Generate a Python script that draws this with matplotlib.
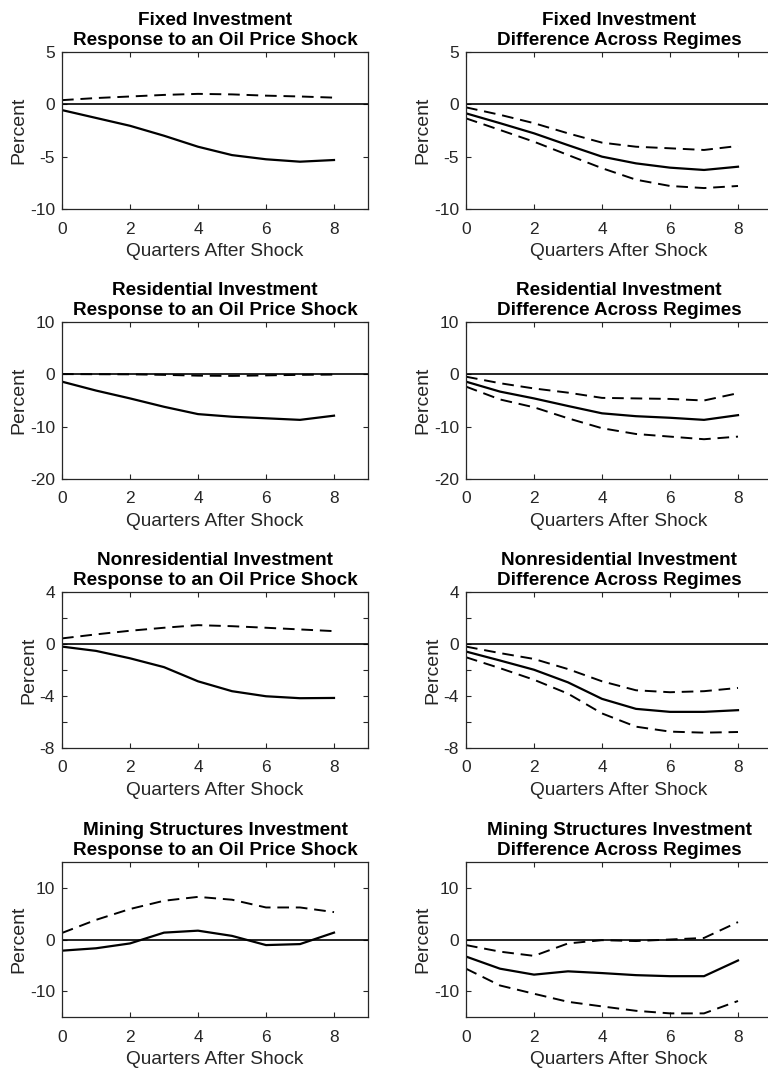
import numpy as np
from matplotlib import pyplot as plt

'''Data read off the reference figure'''
quarters = [0, 1, 2, 3, 4, 5, 6, 7, 8]

fixed_resp = [-0.55, -1.3, -2.05, -3.0, -4.05, -4.85, -5.25, -5.48, -5.32]
fixed_resp_hi = [0.4, 0.6, 0.75, 0.9, 1.0, 0.95, 0.83, 0.75, 0.64]
fixed_diff = [-0.86, -1.8, -2.77, -3.9, -5.0, -5.64, -6.05, -6.27, -5.96]
fixed_diff_hi = [-0.29, -1.0, -1.8, -2.77, -3.66, -4.05, -4.2, -4.36, -3.98]
fixed_diff_lo = [-1.34, -2.45, -3.57, -4.84, -6.1, -7.2, -7.8, -8.0, -7.8]

resid_resp = [-1.4, -3.1, -4.6, -6.2, -7.6, -8.1, -8.4, -8.7, -7.9]
resid_resp_hi = [0.05, 0.02, 0.0, -0.1, -0.25, -0.3, -0.2, -0.1, -0.05]
resid_diff = [-1.4, -3.3, -4.6, -6.05, -7.45, -8.0, -8.3, -8.7, -7.8]
resid_diff_hi = [-0.45, -1.7, -2.7, -3.5, -4.5, -4.6, -4.7, -5.0, -3.6]
resid_diff_lo = [-2.35, -4.8, -6.3, -8.4, -10.3, -11.4, -11.9, -12.4, -11.9]

nonres_resp = [-0.2, -0.53, -1.1, -1.78, -2.87, -3.63, -4.02, -4.17, -4.15]
nonres_resp_hi = [0.43, 0.74, 1.02, 1.25, 1.45, 1.37, 1.25, 1.12, 0.99]
nonres_diff = [-0.58, -1.27, -1.98, -2.95, -4.22, -4.99, -5.22, -5.22, -5.09]
nonres_diff_hi = [-0.2, -0.7, -1.15, -1.93, -2.87, -3.56, -3.71, -3.63, -3.38]
nonres_diff_lo = [-1.02, -1.86, -2.75, -3.82, -5.34, -6.36, -6.74, -6.82, -6.77]

mining_resp = [-2.16, -1.7, -0.76, 1.33, 1.71, 0.7, -1.08, -0.89, 1.33]
mining_resp_hi = [1.27, 3.8, 5.9, 7.5, 8.25, 7.7, 6.2, 6.2, 5.3]
mining_diff = [-3.3, -5.65, -6.8, -6.16, -6.5, -6.9, -7.1, -7.1, -4.06]
mining_diff_hi = [-1.08, -2.35, -3.17, -0.76, -0.13, -0.3, 0.0, 0.3, 3.37]
mining_diff_lo = [-5.65, -8.9, -10.5, -12.06, -12.95, -13.8, -14.3, -14.3, -11.9]

names = ['Fixed Investment', 'Residential Investment',
         'Nonresidential Investment', 'Mining Structures Investment']
ylims = [(-10, 5), (-20, 10), (-8, 4), (-15, 15)]
ylabel_ticks = [[-10, -5, 0, 5], [-20, -10, 0, 10], [-8, -4, 0, 4], [-10, 0, 10]]
ytick_marks = [[-10, -5, 0, 5], [-20, -10, 0, 10], [-8, -6, -4, -2, 0, 2, 4], [-10, 0, 10]]

left_panels = [(fixed_resp, [fixed_resp_hi]),
               (resid_resp, [resid_resp_hi]),
               (nonres_resp, [nonres_resp_hi]),
               (mining_resp, [mining_resp_hi])]
right_panels = [(fixed_diff, [fixed_diff_hi, fixed_diff_lo]),
                (resid_diff, [resid_diff_hi, resid_diff_lo]),
                (nonres_diff, [nonres_diff_hi, nonres_diff_lo]),
                (mining_diff, [mining_diff_hi, mining_diff_lo])]

plt.rcParams['font.family'] = ['Liberation Sans', 'DejaVu Sans']

W, H = 768, 1072
fig = plt.figure(figsize=(W / 100, H / 100), dpi=100)

# pixel boxes of each row (top, bottom)
rows = [(52, 209), (322, 479), (592, 748), (862, 1017)]
cols = [(62, 306, 'Response to an Oil Price Shock'),
        (466, 306, 'Difference Across Regimes')]


def style_axes(ax, r, c):
    ax.set_xlim(0, 9)
    ax.set_ylim(*ylims[r])
    ax.set_xticks([0, 2, 4, 6, 8])
    ax.set_yticks(ytick_marks[r])
    ax.set_yticklabels([str(t) if t in ylabel_ticks[r] else '' for t in ytick_marks[r]])
    ax.tick_params(direction='in', top=True, right=(c == 0), length=3.5,
                   width=0.8, labelsize=12.5, colors='#262626', pad=5)
    ax.tick_params(axis='x', pad=9)
    for s in ax.spines.values():
        s.set_linewidth(0.9)
        s.set_color('#262626')
    ax.set_xlabel('Quarters After Shock', fontsize=13.8, color='#262626', labelpad=5)
    ax.set_ylabel('Percent', fontsize=14, color='#262626', labelpad=2)


for r, (top, bot) in enumerate(rows):
    for c, (x0, w, sub) in enumerate(cols):
        ax = fig.add_axes([x0 / W, 1 - bot / H, w / W, (bot - top) / H])
        mid, bands = (left_panels if c == 0 else right_panels)[r]
        ax.axhline(0, color='black', lw=1.2)
        ax.plot(quarters, mid, color='black', lw=1.6)
        for b in bands:
            ax.plot(quarters, b, color='black', lw=1.4, ls=(0, (6, 3.5)))
        style_axes(ax, r, c)
        ax.set_title(names[r] + '\n' + sub, fontsize=13.6, fontweight='bold',
                     pad=5, linespacing=1.25)

fig.savefig('out.png', dpi=100)
